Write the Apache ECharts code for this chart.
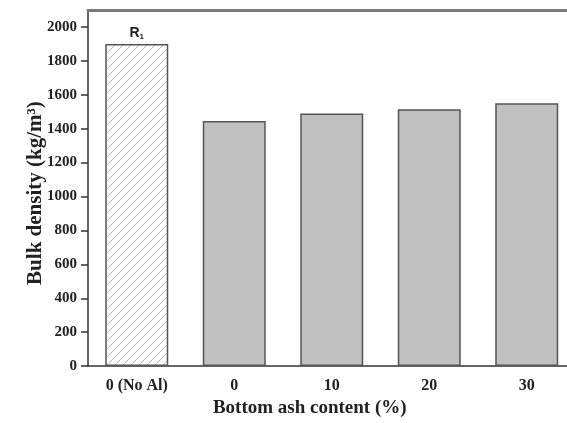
<!DOCTYPE html>
<html><head><meta charset="utf-8">
<script src="https://cdn.jsdelivr.net/npm/echarts@6/dist/echarts.min.js"></script>
<style>html,body{margin:0;padding:0;background:#fff;overflow:hidden}#c{width:576px;height:423px}</style>
</head><body><div id="c"></div>
<script>
var categories = ['0 (No Al)', '0', '10', '20', '30'];
var bulkDensity = [1900, 1445, 1490, 1515, 1550];
var yTicks = [0, 200, 400, 600, 800, 1000, 1200, 1400, 1600, 1800, 2000];

function hatch() {
  var c = document.createElement('canvas');
  c.width = 8; c.height = 8;
  var g = c.getContext('2d');
  g.fillStyle = '#ffffff'; g.fillRect(0, 0, 8, 8);
  g.strokeStyle = '#b8b8b8'; g.lineWidth = 1;
  g.beginPath();
  g.moveTo(-1, 9); g.lineTo(9, -1);
  g.moveTo(-1, 1); g.lineTo(1, -1);
  g.moveTo(7, 9); g.lineTo(9, 7);
  g.stroke();
  return c;
}
var pat = {image: hatch(), repeat: 'repeat'};

var chart = echarts.init(document.getElementById('c'));
var serif = '"Liberation Serif", "Times New Roman", serif';
chart.setOption({
  animation: false,
  grid: {left: 88, right: 0.5, top: 10, bottom: 54},
  xAxis: [{
    type: 'category', data: categories,
    axisLine: {lineStyle: {color: '#333', width: 1.5}},
    axisTick: {alignWithLabel: true, length: 5, lineStyle: {color: '#333', width: 1.5}},
    axisLabel: {color: '#222', fontFamily: serif, fontWeight: 'bold', fontSize: 16, margin: 12},
    name: 'Bottom ash content (%)', nameLocation: 'middle', nameGap: 32,
    nameTextStyle: {color: '#222', fontFamily: serif, fontWeight: 'bold', fontSize: 19, padding: [0, 44, 0, 0]}
  }, {
    type: 'category', data: categories, position: 'top',
    axisLine: {lineStyle: {color: '#7a7a7a', width: 3}},
    axisTick: {show: false}, axisLabel: {show: false}
  }],
  yAxis: {
    type: 'value', min: 0, max: 2100, interval: 200,
    splitLine: {show: false},
    axisLine: {show: true, lineStyle: {color: '#333', width: 1.5}},
    axisTick: {show: true, length: 7, lineStyle: {color: '#333', width: 1.5},
      customValues: yTicks},
    axisLabel: {color: '#222', fontFamily: serif, fontWeight: 'bold', fontSize: 15, margin: 11,
      customValues: yTicks, formatter: function (v) { return String(v); }},
    name: 'Bulk density (kg/m\u00b3)', nameLocation: 'middle', nameGap: 42, nameMoveOverlap: false,
    nameTextStyle: {color: '#222', fontFamily: serif, fontWeight: 'bold', fontSize: 21, padding: [0, 10, 0, 0]}
  },
  series: [{
    type: 'bar', barWidth: 63,
    data: bulkDensity.map(function (v, i) {
      return i === 0 ? {value: v, itemStyle: {color: pat},
        label: {show: true, position: 'top', distance: 3,
          formatter: '{a|R}{b|1}',
          rich: {a: {fontFamily: '"Liberation Sans", Arial', fontWeight: 'bold', fontSize: 14, color: '#222'},
                 b: {fontFamily: '"Liberation Sans", Arial', fontWeight: 'bold', fontSize: 8, color: '#222', padding: [8, 0, 0, 0]}}}}
        : v;
    }),
    itemStyle: {color: '#c0c0c0', borderColor: '#555', borderWidth: 1.5}
  }]
});
</script></body></html>
